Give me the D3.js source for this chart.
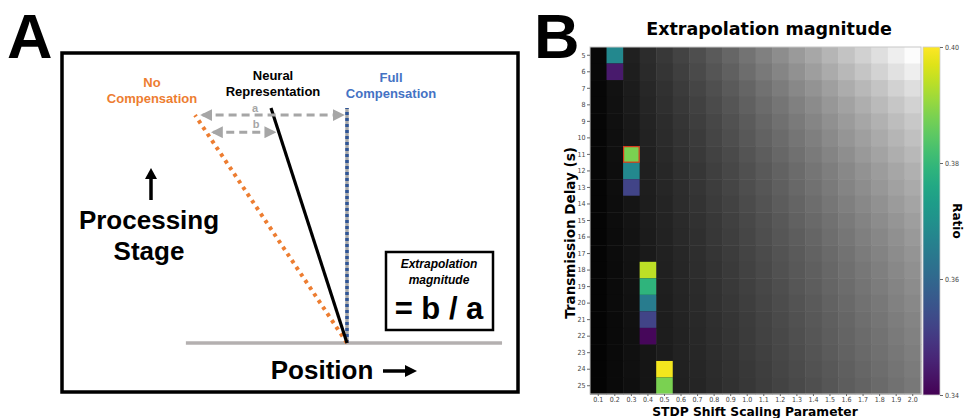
<!DOCTYPE html>
<html>
<head>
<meta charset="utf-8">
<script src="https://cdnjs.cloudflare.com/ajax/libs/d3/7.8.5/d3.min.js"></script>
<style>
  body { margin: 0; background: #fff; }
  svg { display: block; }
  .ax text { font-family: "DejaVu Sans Condensed", "DejaVu Sans", sans-serif; font-size: 7px; fill: #444; }
  .ax line { stroke: #666; }
  .ax path { display: none; }
</style>
</head>
<body>
<svg id="fig" width="964" height="418"></svg>
<script>
// ---- panel B data ----
var params = ['0.1','0.2','0.3','0.4','0.5','0.6','0.7','0.8','0.9','1.0',
              '1.1','1.2','1.3','1.4','1.5','1.6','1.7','1.8','1.9','2.0']
var delays = [5,6,7,8,9,10,11,12,13,14,15,16,17,18,19,20,21,22,23,24,25]

// grey background level per cell (0 = black, 255 = white), rows = delays, cols = params
var greyLevels = [
  [8,20,32,44,56,67,78,90,102,115,128,141,154,167,181,195,209,223,238,252],
  [8,19,30,42,53,63,74,85,96,109,121,133,145,158,171,184,197,211,225,238],
  [7,18,28,39,49,59,69,79,90,101,113,124,136,147,159,172,184,196,210,222],
  [7,17,27,37,47,56,65,75,85,96,107,117,128,139,151,162,174,186,198,210],
  [6,16,25,35,44,53,62,71,81,91,102,112,122,133,144,155,166,177,189,200],
  [6,15,24,34,43,51,59,69,78,88,98,107,117,127,138,149,159,170,181,192],
  [6,15,23,32,41,49,57,66,74,84,93,103,112,122,132,142,153,163,174,184],
  [6,14,22,31,39,47,54,63,71,80,89,98,107,117,126,136,146,156,166,176],
  [5,14,22,30,38,45,53,61,69,78,86,95,104,113,122,132,141,151,161,170],
  [5,13,21,29,36,44,51,59,66,75,83,92,100,109,118,127,136,145,155,164],
  [5,13,20,28,35,42,49,56,64,72,80,88,97,105,113,122,131,140,149,158],
  [5,12,19,27,34,41,47,55,62,70,78,86,93,101,110,118,127,135,144,153],
  [5,12,19,26,33,39,46,53,60,68,75,83,90,98,106,114,123,131,140,148],
  [5,11,18,25,32,38,45,51,58,66,73,81,88,95,103,111,119,127,136,144],
  [4,11,18,24,31,37,43,50,57,64,71,78,86,93,101,108,116,124,132,140],
  [4,11,17,24,30,36,42,49,55,62,69,76,83,90,98,105,113,120,129,136],
  [4,10,17,23,29,35,41,47,53,60,67,74,81,88,95,102,110,117,125,132],
  [4,10,16,23,29,34,40,46,52,59,66,72,79,86,93,100,107,114,122,129],
  [4,10,16,22,28,34,39,45,51,58,64,71,77,84,91,98,105,112,119,126],
  [4,10,16,21,27,33,38,44,50,56,62,69,75,82,88,95,102,109,116,123],
  [4,10,15,21,27,32,37,43,49,55,61,67,73,79,86,93,99,106,113,120]
]

// cells whose ratio falls inside the colour range
var ratioParam = ['0.2','0.2','0.3','0.3','0.3','0.4','0.4','0.4','0.4','0.4','0.5','0.5']
var ratioDelay = [5,6,11,12,13,18,19,20,21,22,24,25]
var ratioValue = [0.368,0.344,0.388,0.368,0.352,0.394,0.379,0.365,0.352,0.341,0.399,0.388]
var bestParam = '0.3', bestDelay = 11

var ratioTicks = [0.34,0.36,0.38,0.40]

// ---- panel A data (schematic, position units: full compensation = 0, no compensation = -1) ----
var noCompLine = [{pos: 0, stage: 0}, {pos: -1, stage: 0.97}]
var neuralLine = [{pos: 0, stage: 0}, {pos: -0.5, stage: 1}]
var fullLine = [{pos: 0, stage: 0}, {pos: 0, stage: 1}]
var baseLine = [{pos: -1.06, stage: 0}, {pos: 1.02, stage: 0}]
var arrowA = [{pos: -0.95, stage: 0.97}, {pos: -0.03, stage: 0.97}]
var arrowB = [{pos: -0.88, stage: 0.897}, {pos: -0.48, stage: 0.897}]

var svg = d3.select('#fig')
var grey = '#a6a6a6'

// ================= Panel A =================
svg.append('text').attr('x', 7).attr('y', 58)
    .style('font-family', 'Liberation Sans, Arial, sans-serif').style('font-weight', 'bold')
    .style('font-size', '63px').text('A')

svg.append('rect').attr('x', 62).attr('y', 53).attr('width', 456).attr('height', 339)
    .attr('fill', 'none').attr('stroke', '#000').attr('stroke-width', 3.5)

var posScale = d3.scaleLinear().domain([-1, 0]).range([195, 347])
var stageScale = d3.scaleLinear().domain([0, 1]).range([343, 108])
var lineA = d3.line().x(function (d) { return posScale(d.pos) }).y(function (d) { return stageScale(d.stage) })

var defs = svg.append('defs')
defs.append('marker').attr('id', 'gh').attr('viewBox', '0 0 10 10').attr('refX', 8).attr('refY', 5)
    .attr('markerWidth', 4).attr('markerHeight', 4).attr('orient', 'auto-start-reverse')
  .append('path').attr('d', 'M0,0 L10,5 L0,10 z').attr('fill', grey)

svg.append('path').attr('d', lineA(baseLine)).attr('stroke', '#b4b0b0').attr('stroke-width', 3.5).attr('fill', 'none')

// full compensation: grey with blue dashes
svg.append('path').attr('d', lineA(fullLine)).attr('stroke', '#a9a9a9').attr('stroke-width', 3.5).attr('fill', 'none')
svg.append('path').attr('d', lineA(fullLine)).attr('stroke', '#2f5597').attr('stroke-width', 3.5)
    .attr('stroke-dasharray', '3,3').attr('fill', 'none')

svg.append('path').attr('d', lineA(noCompLine)).attr('stroke', '#ed7d31').attr('stroke-width', 4)
    .attr('stroke-dasharray', '3.5,4.5').attr('fill', 'none')

svg.append('path').attr('d', lineA(neuralLine)).attr('stroke', '#000').attr('stroke-width', 3.2).attr('fill', 'none')

;[arrowA, arrowB].forEach(function (ar) {
  svg.append('path').attr('d', lineA(ar)).attr('stroke', grey).attr('stroke-width', 3)
      .attr('stroke-dasharray', '8,5').attr('fill', 'none')
      .attr('marker-start', 'url(#gh)').attr('marker-end', 'url(#gh)')
})

var fA = 'Liberation Sans, Arial, sans-serif'
function label(x, y, lines, size, color, dy, style) {
  var t = svg.append('text').attr('x', x).attr('y', y).attr('text-anchor', 'middle')
      .style('font-family', fA).style('font-weight', 'bold').style('font-size', size + 'px')
      .style('fill', color).style('font-style', style || 'normal')
  lines.forEach(function (l, i) {
    t.append('tspan').attr('x', x).attr('dy', i ? dy : 0).text(l)
  })
}
label(152, 87, ['No', 'Compensation'], 13, '#ed7d31', 16)
label(273, 80, ['Neural', 'Representation'], 13, '#000', 16)
label(391, 82, ['Full', 'Compensation'], 13, '#4472c4', 16)
label(255, 112, ['a'], 11, grey, 0)
label(256, 128, ['b'], 11, grey, 0)
label(149, 229, ['Processing', 'Stage'], 26, '#000', 31)
label(322, 379, ['Position'], 26, '#000', 0)

// up arrow
svg.append('line').attr('x1', 151).attr('x2', 151).attr('y1', 200).attr('y2', 176).attr('stroke', '#000').attr('stroke-width', 3.5)
svg.append('path').attr('d', 'M145,179 L151,168 L157,179 z').attr('fill', '#000')
// right arrow
svg.append('line').attr('x1', 383).attr('x2', 408).attr('y1', 371).attr('y2', 371).attr('stroke', '#000').attr('stroke-width', 3.5)
svg.append('path').attr('d', 'M405,365 L417,371 L405,377 z').attr('fill', '#000')

// extrapolation box
svg.append('rect').attr('x', 386).attr('y', 252).attr('width', 107).attr('height', 78)
    .attr('fill', '#fff').attr('stroke', '#000').attr('stroke-width', 2.5)
label(439, 268, ['Extrapolation', 'magnitude'], 12, '#000', 16, 'italic')
label(439, 319, ['= b / a'], 31, '#000', 0)

// ================= Panel B =================
svg.append('text').attr('x', 534).attr('y', 58)
    .style('font-family', fA).style('font-weight', 'bold').style('font-size', '63px').text('B')

var fB = 'DejaVu Sans, sans-serif'
svg.append('text').attr('x', 769).attr('y', 35).attr('text-anchor', 'middle')
    .style('font-family', fB).style('font-weight', 'bold').style('font-size', '17.5px').text('Extrapolation magnitude')

var x = d3.scaleBand().domain(params).range([590, 921])
var y = d3.scaleBand().domain(delays).range([47, 394])
var greyScale = d3.scaleLinear().domain([0, 255]).range(['#000', '#fff'])
var color = d3.scaleSequential(d3.interpolateViridis).domain([0.34, 0.40])

var cells = []
greyLevels.forEach(function (row, i) {
  row.forEach(function (v, j) { cells.push({ d: delays[i], p: params[j], v: v }) })
})
svg.append('g').selectAll('rect').data(cells).enter().append('rect')
    .attr('x', function (d) { return x(d.p) })
    .attr('y', function (d) { return y(d.d) })
    .attr('width', x.bandwidth() + 0.5)
    .attr('height', y.bandwidth() + 0.5)
    .attr('fill', function (d) { return greyScale(d.v) })

var hits = ratioValue.map(function (v, i) { return { p: ratioParam[i], d: ratioDelay[i], v: v } })
svg.append('g').selectAll('rect').data(hits).enter().append('rect')
    .attr('x', function (d) { return x(d.p) })
    .attr('y', function (d) { return y(d.d) })
    .attr('width', x.bandwidth())
    .attr('height', y.bandwidth())
    .attr('fill', function (d) { return color(d.v) })

svg.append('rect').attr('x', x(bestParam) + 0.5).attr('y', y(bestDelay) + 0.5)
    .attr('width', x.bandwidth() - 1).attr('height', y.bandwidth() - 1)
    .attr('fill', 'none').attr('stroke', '#d9381e').attr('stroke-width', 1.2)

svg.append('rect').attr('x', 590).attr('y', 47).attr('width', 331).attr('height', 347)
    .attr('fill', 'none').attr('stroke', '#c8c8c8').attr('stroke-width', 1)

svg.append('g').attr('class', 'ax').attr('transform', 'translate(0,394)')
    .call(d3.axisBottom(x).tickSize(2).tickPadding(1))
svg.append('g').attr('class', 'ax').attr('transform', 'translate(590,0)')
    .call(d3.axisLeft(y).tickSize(3).tickPadding(1.5))

svg.append('text').attr('x', 755).attr('y', 415.5).attr('text-anchor', 'middle')
    .style('font-family', fB).style('font-weight', 'bold').style('font-size', '12.3px')
    .text('STDP Shift Scaling Parameter')
svg.append('text').attr('transform', 'translate(575,233) rotate(-90)').attr('text-anchor', 'middle')
    .style('font-family', fB).style('font-weight', 'bold').style('font-size', '13.5px')
    .text('Transmission Delay (s)')

// colorbar
var cb = d3.scaleLinear().domain([0.34, 0.40]).range([395, 47])
var grad = defs.append('linearGradient').attr('id', 'vir').attr('x1', 0).attr('x2', 0).attr('y1', 1).attr('y2', 0)
d3.range(0, 1.001, 0.05).forEach(function (t) {
  grad.append('stop').attr('offset', t).attr('stop-color', d3.interpolateViridis(t))
})
svg.append('rect').attr('x', 923).attr('y', 47).attr('width', 17).attr('height', 348)
    .attr('fill', 'url(#vir)').attr('stroke', '#ccc').attr('stroke-width', 0.8)
svg.append('g').attr('class', 'ax').attr('transform', 'translate(940,0)')
    .call(d3.axisRight(cb).tickValues(ratioTicks).tickFormat(d3.format('.2f')).tickSize(3).tickPadding(2))
svg.append('text').attr('transform', 'translate(953,221) rotate(90)').attr('text-anchor', 'middle')
    .style('font-family', fB).style('font-weight', 'bold').style('font-size', '12px').text('Ratio')
</script>
</body>
</html>
